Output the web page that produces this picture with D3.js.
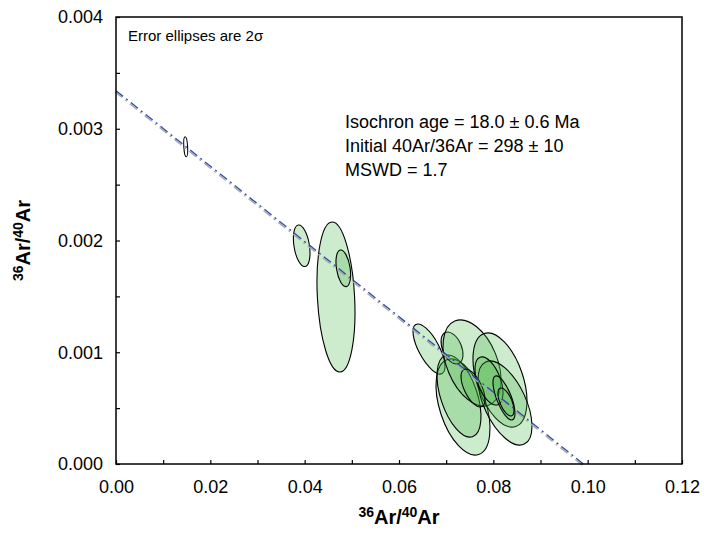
<!DOCTYPE html>
<head>
  <meta charset="utf-8">
  <script src="https://cdn.jsdelivr.net/npm/d3@7"></script>
  <style>
    body { margin:0; background:#fff; }
    text { font-family: Arial, "Liberation Sans", sans-serif; }
  </style>
</head>
<body>
<script>
var width = 704, height = 533;
var margin = {left: 116, right: 22, top: 17, bottom: 69};

// data values
var ellX   = [0.01478, 0.03937, 0.04664, 0.04819, 0.06636, 0.07357, 0.07272, 0.07124, 0.07548, 0.08141, 0.08247, 0.07569, 0.07908, 0.08226, 0.08268];
var ellY   = [0.002839, 0.001953, 0.001494, 0.001751, 0.001029, 0.00051, 0.000608, 0.001038, 0.000904, 0.000752, 0.000546, 0.00068, 0.000743, 0.000591, 0.000555];
var ellEx  = [0.00042, 0.00176, 0.00403, 0.00155, 0.00339, 0.00572, 0.00466, 0.00233, 0.00615, 0.00572, 0.00572, 0.00254, 0.00297, 0.00233, 0.0017];
var ellEy  = [0.0000895, 0.000186, 0.000671, 0.000164, 0.000224, 0.00043, 0.000367, 0.000143, 0.000385, 0.000421, 0.000376, 0.00017, 0.000215, 0.000197, 0.000125];
var ellRho = [-0.3, -0.35, -0.2, -0.35, -0.7, -0.45, -0.5, -0.4, -0.4, -0.45, -0.55, -0.6, -0.5, -0.7, -0.6];

var lineX = [0, 0.0991];
var lineY = [0.00334, 0];

var xTicks = [0, 0.02, 0.04, 0.06, 0.08, 0.10, 0.12];
var xMinor = [0.01, 0.03, 0.05, 0.07, 0.09, 0.11];
var yTicks = [0, 0.001, 0.002, 0.003, 0.004];
var yMinor = [0.0005, 0.0015, 0.0025, 0.0035];

var notes = ["Isochron age = 18.0 \u00b1 0.6 Ma", "Initial 40Ar/36Ar = 298 \u00b1 10", "MSWD = 1.7"];

var svg = d3.select("body").append("svg")
  .attr("width", width).attr("height", height);

var x = d3.scaleLinear().domain([0, 0.12]).range([margin.left, width - margin.right]);
var y = d3.scaleLinear().domain([0, 0.004]).range([height - margin.bottom, margin.top]);

var kx = x(1) - x(0), ky = y(0) - y(1);

var ells = ellX.map(function(d, i) {
  var sx = ellEx[i] * kx, sy = ellEy[i] * ky;
  var c = -ellRho[i] * sx * sy; // screen y is flipped
  var a = sx * sx, b = sy * sy;
  var tr = (a + b) / 2, det = Math.sqrt((a - b) * (a - b) / 4 + c * c);
  return {
    cx: x(d), cy: y(ellY[i]),
    r1: Math.sqrt(tr + det), r2: Math.sqrt(Math.max(tr - det, 0.01)),
    ang: 0.5 * Math.atan2(2 * c, a - b) * 180 / Math.PI
  };
});

svg.append("g").selectAll("ellipse")
  .data(ells)
  .enter().append("ellipse")
  .attr("rx", function(d) { return d.r1; })
  .attr("ry", function(d) { return d.r2; })
  .attr("transform", function(d) { return "translate(" + d.cx + "," + d.cy + ") rotate(" + d.ang + ")"; })
  .attr("fill", function(d, i) { return i == 0 ? "#fff" : "rgb(70,180,70)"; })
  .attr("fill-opacity", function(d, i) { return i == 0 ? 1 : 0.27; })
  .attr("stroke", "#000")
  .attr("stroke-width", 1.1);

// isochron line (grey shadow + blue dash-dot)
var lineGen = d3.line().x(function(d) { return x(d[0]); }).y(function(d) { return y(d[1]); });
var pts = lineX.map(function(d, i) { return [d, lineY[i]]; });
svg.append("path").datum(pts).attr("d", lineGen)
  .attr("transform", "translate(-1,1.2)")
  .attr("fill", "none").attr("stroke", "#a8a8a8").attr("stroke-width", 1.4)
  .attr("stroke-dasharray", "9,4,2,4");
svg.append("path").datum(pts).attr("d", lineGen)
  .attr("fill", "none").attr("stroke", "#2d4aa8").attr("stroke-width", 1.3)
  .attr("stroke-dasharray", "9,4,2,4");

// axes
svg.append("g").attr("transform", "translate(0," + y(0) + ")")
  .call(d3.axisBottom(x).tickValues(xTicks).tickSizeInner(-4).tickSizeOuter(0).tickPadding(16)
    .tickFormat(d3.format(".2f")));
svg.append("g").attr("transform", "translate(0," + y(0) + ")")
  .call(d3.axisBottom(x).tickValues(xMinor).tickSizeInner(-4).tickSizeOuter(0).tickFormat(""));
svg.append("g").attr("transform", "translate(" + x(0) + ",0)")
  .call(d3.axisLeft(y).tickValues(yTicks).tickSizeInner(-4).tickSizeOuter(0).tickPadding(13)
    .tickFormat(d3.format(".3f")));
svg.append("g").attr("transform", "translate(" + x(0) + ",0)")
  .call(d3.axisLeft(y).tickValues(yMinor).tickSizeInner(-4).tickSizeOuter(0).tickFormat(""));

svg.selectAll(".domain").remove();
svg.selectAll(".tick line").attr("stroke", "#000").attr("stroke-width", 1.2);
svg.selectAll(".tick text").attr("font-size", 18).attr("fill", "#000")
  .attr("font-family", "Arial, 'Liberation Sans', sans-serif");

svg.append("rect")
  .attr("x", x(0)).attr("y", y(0.004))
  .attr("width", x(0.12) - x(0)).attr("height", y(0) - y(0.004))
  .attr("fill", "none").attr("stroke", "#000").attr("stroke-width", 1.5);

// axis titles
function title(sel) {
  sel.attr("font-weight", "bold").attr("font-size", 20).attr("fill", "#000");
  sel.append("tspan").attr("font-size", 14).attr("dy", -7).text("36");
  sel.append("tspan").attr("dy", 7).text("Ar/");
  sel.append("tspan").attr("font-size", 14).attr("dy", -7).text("40");
  sel.append("tspan").attr("dy", 7).text("Ar");
}
svg.append("text").attr("x", (x(0) + x(0.12)) / 2).attr("y", 524)
  .attr("text-anchor", "middle").call(title);
svg.append("text").attr("transform", "translate(30," + ((y(0) + y(0.004)) / 2) + ") rotate(-90)")
  .attr("text-anchor", "middle").call(title);

// annotations
svg.append("text").attr("x", 128).attr("y", 41).attr("font-size", 15).attr("fill", "#000")
  .text("Error ellipses are 2\u03c3");

svg.append("g").selectAll("text").data(notes).enter().append("text")
  .attr("x", 345)
  .attr("y", function(d, i) { return 128 + i * 24; })
  .attr("font-size", 18).attr("fill", "#000")
  .text(function(d) { return d; });
</script>
</body>
